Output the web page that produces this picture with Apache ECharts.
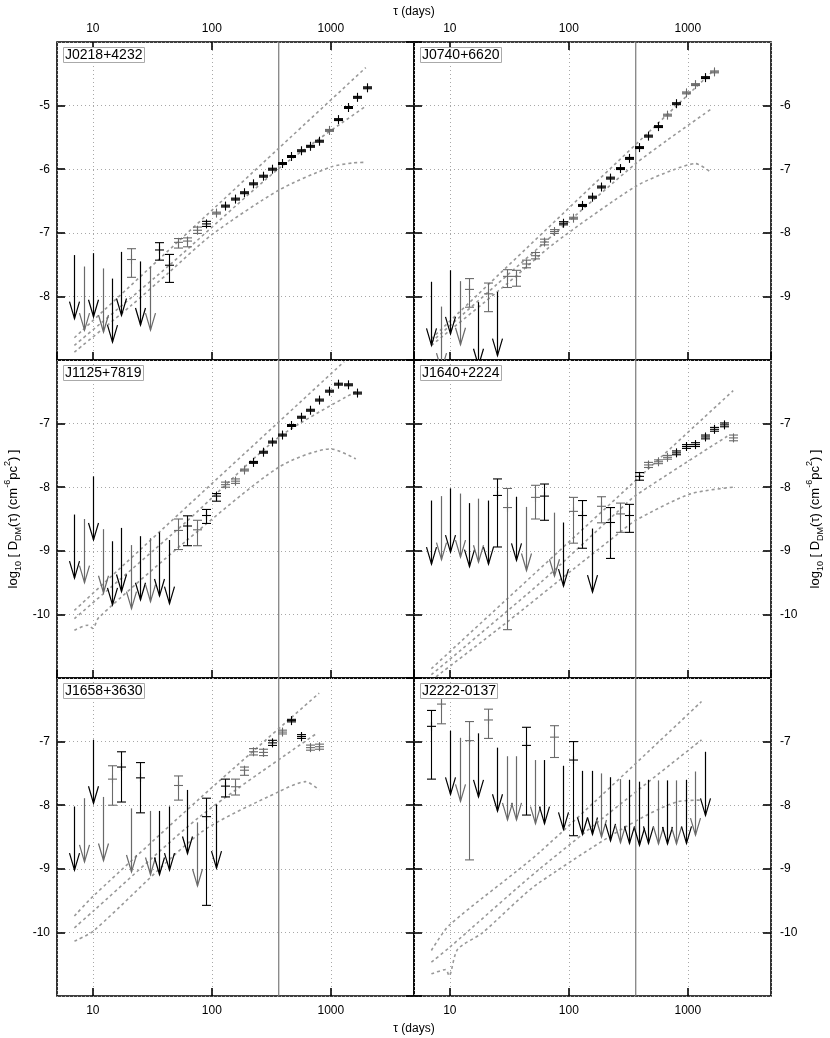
<!DOCTYPE html>
<html>
<head>
<meta charset="utf-8">
<script src="https://cdn.jsdelivr.net/npm/echarts@6/dist/echarts.min.js"></script>
<style>html,body{margin:0;padding:0;background:#fff}#c{width:830px;height:1038px}</style>
</head>
<body>
<div id="c"></div>
<script>
// ---------------- DATA ----------------
const names = ['J0218+4232','J0740+6620','J1125+7819','J1640+2224','J1658+3630','J2222-0137'];
const xTicks = [10, 100, 1000];
const yRanges = [[-9,-4],[-10,-5],[-11,-6],[-11,-6],[-11,-6],[-11,-6]];
const yearLine = 365;

// upper limits: [tau, value, grey?]
const J0218_lim = [[7.0,-7.35,0],[8.4,-7.53,1],[10.1,-7.32,0],[12.1,-7.56,1],[14.5,-7.72,0],[17.4,-7.30,0],[25.1,-7.45,0],[30.1,-7.53,1]];
// measurements: [tau, value, low, high, grey?]
const J0218_err = [[20.9,-7.42,-7.70,-7.25,1],[36.1,-7.27,-7.43,-7.155,0],[43.3,-7.51,-7.78,-7.34,0],[52.0,-7.15,-7.24,-7.09,1],[62.4,-7.13,-7.22,-7.08,1],[74.9,-6.96,-7.01,-6.91,1],[89.9,-6.86,-6.90,-6.82,0],[107.9,-6.69,-6.705,-6.675,1],[129.5,-6.58,-6.595,-6.565,0],[155.4,-6.47,-6.485,-6.455,0],[186.4,-6.37,-6.385,-6.355,0],[223.7,-6.23,-6.245,-6.215,0],[268.5,-6.11,-6.125,-6.095,0],[322.2,-6.00,-6.015,-5.985,0],[386.6,-5.91,-5.925,-5.895,0],[463.9,-5.80,-5.815,-5.785,0],[556.7,-5.71,-5.725,-5.695,0],[668.0,-5.64,-5.655,-5.625,0],[801.6,-5.56,-5.575,-5.545,0],[962.0,-5.39,-5.405,-5.375,1],[1154,-5.22,-5.235,-5.205,0],[1385,-5.03,-5.045,-5.015,0],[1662,-4.87,-4.885,-4.855,0],[1995,-4.72,-4.735,-4.705,0]];
const J0218_up = [[7,-8.65],[365,-5.671],[1968,-4.402]];
const J0218_mid = [[7,-8.77],[43.8,-7.512],[365,-5.991],[1968,-5.01]];
const J0218_low = [[7,-8.875],[20.8,-8.15],[43.8,-7.62],[100,-7.03],[365,-6.33],[1000,-5.965],[1521,-5.902],[1968,-5.891]];

const J0740_lim = [[7.0,-8.77,0],[8.4,-9.16,1],[10.1,-8.59,0],[12.1,-8.76,1],[17.4,-9.09,0],[25.1,-8.93,0]];
const J0740_err = [[14.5,-8.89,-9.17,-8.72,1],[20.9,-8.96,-9.24,-8.79,1],[30.1,-8.685,-8.86,-8.58,1],[36.1,-8.685,-8.84,-8.59,1],[43.3,-8.49,-8.55,-8.43,1],[52.0,-8.36,-8.41,-8.31,1],[62.4,-8.145,-8.19,-8.10,1],[74.9,-7.98,-8.01,-7.95,1],[89.9,-7.85,-7.875,-7.825,0],[107.9,-7.77,-7.785,-7.755,1],[129.5,-7.57,-7.585,-7.555,0],[155.4,-7.44,-7.455,-7.425,0],[186.4,-7.28,-7.295,-7.265,0],[223.7,-7.14,-7.155,-7.125,0],[268.5,-6.99,-7.005,-6.975,0],[322.2,-6.83,-6.845,-6.815,0],[386.6,-6.66,-6.675,-6.645,0],[463.9,-6.48,-6.495,-6.465,0],[556.7,-6.33,-6.345,-6.315,0],[668.0,-6.15,-6.165,-6.135,1],[801.6,-5.97,-5.985,-5.955,0],[962.0,-5.80,-5.815,-5.785,1],[1154,-5.67,-5.685,-5.655,1],[1385,-5.56,-5.575,-5.545,0],[1662,-5.47,-5.485,-5.455,1]];
const J0740_up = [[7,-9.665],[1675,-5.434]];
const J0740_mid = [[7,-9.718],[30.3,-8.669],[74.8,-8.024],[365,-6.912],[670,-6.545],[1549,-6.063]];
const J0740_low = [[7,-9.77],[30.3,-8.80],[74.8,-8.171],[365,-7.269],[762,-7.007],[1159,-6.912],[1549,-7.044]];

const J1125_lim = [[7.0,-8.43,0],[8.4,-8.50,1],[10.1,-7.83,0],[12.1,-8.66,1],[14.5,-8.85,0],[17.4,-8.64,0],[20.9,-8.91,1],[25.1,-8.77,0],[30.1,-8.80,1],[36.1,-8.71,0],[43.3,-8.83,0]];
const J1125_err = [[52.0,-8.68,-8.98,-8.50,1],[62.4,-8.61,-8.92,-8.45,0],[74.9,-8.67,-8.92,-8.52,1],[89.9,-8.445,-8.57,-8.35,0],[107.9,-8.14,-8.22,-8.10,0],[129.5,-7.96,-8.00,-7.92,1],[155.4,-7.905,-7.94,-7.87,1],[186.4,-7.73,-7.745,-7.715,1],[223.7,-7.61,-7.625,-7.595,0],[268.5,-7.45,-7.465,-7.435,0],[322.2,-7.29,-7.305,-7.275,0],[386.6,-7.18,-7.195,-7.165,0],[463.9,-7.03,-7.045,-7.015,0],[556.7,-6.90,-6.915,-6.885,0],[668.0,-6.79,-6.805,-6.775,0],[801.6,-6.63,-6.645,-6.615,0],[962.0,-6.49,-6.505,-6.475,0],[1154,-6.38,-6.395,-6.365,0],[1385,-6.39,-6.405,-6.375,0],[1662,-6.52,-6.535,-6.505,0]];
const J1125_up = [[7,-9.937],[1294,-6.026]];
const J1125_mid = [[7,-10.068],[60.4,-8.55],[365,-7.215],[1622,-6.497]];
const J1125_low = [[7,-10.25],[9,-10.17],[10,-10.22],[11.2,-10.05],[60.4,-8.85],[365,-7.686],[1000,-7.398],[1622,-7.555]];

const J1640_lim = [[7.0,-8.21,0],[8.4,-8.14,1],[10.1,-8.02,0],[12.1,-8.10,1],[14.5,-8.25,0],[17.4,-8.18,1],[20.9,-8.21,0],[36.1,-8.15,0],[43.3,-8.31,1],[74.9,-8.40,1],[89.9,-8.555,0],[155.4,-8.65,0]];
const J1640_err = [[25.1,-8.13,-8.94,-7.87,0],[30.1,-8.32,-10.24,-8.02,1],[52.0,-8.16,-8.50,-7.97,1],[62.4,-8.14,-8.52,-7.95,0],[107.9,-8.38,-8.88,-8.16,1],[129.5,-8.445,-8.96,-8.21,0],[186.4,-8.30,-8.56,-8.15,1],[223.7,-8.555,-9.12,-8.32,0],[268.5,-8.42,-8.71,-8.25,1],[322.2,-8.445,-8.71,-8.27,0],[386.6,-7.83,-7.89,-7.77,0],[463.9,-7.65,-7.69,-7.61,1],[556.7,-7.60,-7.63,-7.57,1],[668.0,-7.53,-7.56,-7.50,1],[801.6,-7.46,-7.49,-7.43,0],[962.0,-7.36,-7.39,-7.33,0],[1154,-7.33,-7.36,-7.30,0],[1385,-7.21,-7.24,-7.18,0],[1662,-7.09,-7.12,-7.06,0],[1995,-7.02,-7.05,-6.99,0],[2393,-7.225,-7.27,-7.18,1]];
const J1640_up = [[7,-10.853],[2404,-6.482]];
const J1640_mid = [[7,-10.948],[57.8,-9.5],[265,-8.36],[365,-8.13],[2143,-7.199]];
const J1640_low = [[7,-11.037],[30.3,-10.12],[110,-9.283],[265,-8.72],[365,-8.52],[1052,-8.105],[2404,-8.0]];

const J1658_lim = [[7.0,-8.02,0],[8.4,-7.89,1],[10.1,-6.97,0],[12.1,-7.87,1],[20.9,-8.05,1],[30.1,-8.09,1],[36.1,-8.09,0],[43.3,-8.02,0],[62.4,-7.76,0],[74.9,-8.27,1],[107.9,-7.99,0]];
const J1658_err = [[14.5,-7.59,-8.00,-7.38,1],[17.4,-7.40,-7.95,-7.16,0],[25.1,-7.57,-8.12,-7.33,0],[52.0,-7.69,-7.92,-7.54,1],[89.9,-8.18,-9.575,-7.89,0],[129.5,-7.70,-7.87,-7.59,0],[155.4,-7.71,-7.84,-7.59,1],[186.4,-7.45,-7.53,-7.40,1],[223.7,-7.16,-7.21,-7.11,1],[268.5,-7.17,-7.22,-7.12,1],[322.2,-7.02,-7.06,-6.98,0],[386.6,-6.85,-6.88,-6.82,1],[463.9,-6.67,-6.69,-6.65,0],[556.7,-6.92,-6.95,-6.89,0],[668.0,-7.095,-7.135,-7.055,1],[801.6,-7.08,-7.12,-7.04,1]];
const J1658_up = [[7,-9.743],[10.1,-9.428],[80.9,-7.878],[798,-6.238]];
const J1658_mid = [[7,-9.928],[10.1,-9.664],[80.9,-8.167],[762,-6.87]];
const J1658_low = [[7,-10.137],[10.1,-9.98],[80.9,-8.43],[365,-7.788],[617,-7.63],[798,-7.76]];

const J2222_lim = [[10.1,-6.83,0],[12.1,-6.94,1],[17.4,-6.87,0],[25.1,-7.095,0],[30.1,-7.23,1],[36.1,-7.23,1],[52.0,-7.29,1],[62.4,-7.29,0],[89.9,-7.38,0],[129.5,-7.46,0],[155.4,-7.46,0],[186.4,-7.50,1],[223.7,-7.56,0],[268.5,-7.59,1],[322.2,-7.60,0],[386.6,-7.63,0],[463.9,-7.60,0],[556.7,-7.61,1],[668.0,-7.61,0],[801.6,-7.61,1],[962.0,-7.60,0],[1154,-7.47,1],[1385,-7.16,0]];
const J2222_err = [[7.0,-6.76,-7.59,-6.51,0],[8.4,-6.41,-6.72,-6.15,1],[14.5,-6.985,-8.86,-6.685,1],[20.9,-6.66,-6.95,-6.49,1],[43.3,-7.06,-8.155,-6.775,0],[74.9,-6.93,-7.25,-6.75,1],[107.9,-7.29,-8.48,-7.00,0]];
const J2222_up = [[7,-10.284],[9.86,-9.89],[56.4,-8.745],[1303,-6.37]];
const J2222_mid = [[7,-10.468],[9.86,-10.242],[56.4,-9.007],[1303,-6.974]];
const J2222_low = [[7,-10.652],[9.25,-10.584],[9.86,-10.684],[11.6,-10.268],[18.8,-10.006],[56.4,-9.218],[813,-7.946],[1303,-7.92]];

const limSets = [J0218_lim, J0740_lim, J1125_lim, J1640_lim, J1658_lim, J2222_lim];
const errSets = [J0218_err, J0740_err, J1125_err, J1640_err, J1658_err, J2222_err];
const upSets  = [J0218_up, J0740_up, J1125_up, J1640_up, J1658_up, J2222_up];
const midSets = [J0218_mid, J0740_mid, J1125_mid, J1640_mid, J1658_mid, J2222_mid];
const lowSets = [J0218_low, J0740_low, J1125_low, J1640_low, J1658_low, J2222_low];

// ---------------- LAYOUT / STYLE ----------------
const FONT = '"Liberation Sans", Arial, Helvetica, sans-serif';
const GL = [57, 414], GW = 357, GT = [42, 360, 678], GH = 318;
const BLACK = '#000', GREY = '#6a6a6a';
const ARROW_LEN = 1;

function renderErr(params, api) {
  const x = api.value(0), c = api.value(1), lo = api.value(2), hi = api.value(3), g = api.value(4);
  const pc = api.coord([x, c]), pl = api.coord([x, lo]), ph = api.coord([x, hi]);
  const st = {stroke: g ? GREY : BLACK, lineWidth: 1.1, fill: null};
  const w = 4.5, s = 4.5, X = Math.round(pc[0]) + 0.5;
  return {type: 'group', children: [
    {type: 'line', shape: {x1: X, y1: pl[1], x2: X, y2: ph[1]}, style: st},
    {type: 'line', shape: {x1: X - w, y1: pl[1], x2: X + w, y2: pl[1]}, style: st},
    {type: 'line', shape: {x1: X - w, y1: ph[1], x2: X + w, y2: ph[1]}, style: st},
    {type: 'line', shape: {x1: X - s, y1: pc[1], x2: X + s, y2: pc[1]}, style: st},
    {type: 'line', shape: {x1: X, y1: pc[1] - s, x2: X, y2: pc[1] + s}, style: st}
  ]};
}
function renderLim(params, api) {
  const x = api.value(0), top = api.value(1), g = api.value(2);
  const p1 = api.coord([x, top]), p2 = api.coord([x, top - ARROW_LEN]);
  const st = {stroke: g ? GREY : BLACK, lineWidth: 1.2, fill: null};
  const X = Math.round(p1[0]) + 0.5;
  return {type: 'group', children: [
    {type: 'line', shape: {x1: X, y1: p1[1], x2: X, y2: p2[1]}, style: st},
    {type: 'polyline', shape: {points: [[X - 5, p2[1] - 17], [X, p2[1]], [X + 5, p2[1] - 17]]}, style: st}
  ]};
}

const grid = [], xAxis = [], yAxis = [], series = [], title = [];
for (let i = 0; i < 6; i++) {
  const row = Math.floor(i / 2), col = i % 2;
  grid.push({left: GL[col], top: GT[row], width: GW, height: GH, show: true, borderColor: '#000', borderWidth: 1.6, backgroundColor: 'transparent'});
  const lab = (show, margin) => ({show, margin, fontSize: 12, color: '#000', fontFamily: FONT, showMinLabel: false, showMaxLabel: false});
  const tick = (show) => ({show, inside: true, length: 8, lineStyle: {color: '#000', width: 1.6}});
  const split = (show) => ({show, lineStyle: {color: '#a8a8a8', type: [1, 3], width: 1}});
  xAxis.push({type: 'log', logBase: 10, gridIndex: i, position: 'bottom', min: 5, max: 5000,
    axisLine: {show: false}, axisTick: tick(true), splitLine: split(true),
    axisLabel: Object.assign(lab(row === 2, 9), {formatter: v => xTicks.includes(Math.round(v)) ? String(Math.round(v)) : ''})});
  xAxis.push({type: 'log', logBase: 10, gridIndex: i, position: 'top', min: 5, max: 5000,
    axisLine: {show: false}, axisTick: tick(row === 0), splitLine: split(false),
    axisLabel: Object.assign(lab(row === 0, 7), {formatter: v => xTicks.includes(Math.round(v)) ? String(Math.round(v)) : ''})});
  const yr = yRanges[i];
  yAxis.push({type: 'value', gridIndex: i, position: 'left', min: yr[0], max: yr[1], interval: 1,
    axisLine: {show: false}, axisTick: tick(true), splitLine: split(true), axisLabel: lab(col === 0, 7)});
  yAxis.push({type: 'value', gridIndex: i, position: 'right', min: yr[0], max: yr[1], interval: 1,
    axisLine: {show: false}, axisTick: tick(true), splitLine: split(false), axisLabel: lab(col === 1, 9)});

  const ax = {xAxisIndex: 2 * i, yAxisIndex: 2 * i};
  series.push(Object.assign({type: 'line', data: [[yearLine, yr[0] - 1], [yearLine, yr[1] + 1]], symbol: 'none', silent: true,
    lineStyle: {color: '#7a7a7a', width: 1.2}, z: 1, animation: false}, ax));
  [upSets[i], midSets[i], lowSets[i]].forEach(d => {
    series.push(Object.assign({type: 'line', data: d, symbol: 'none', smooth: 0.25, silent: true,
      lineStyle: {color: '#999', width: 1.6, type: [3, 3]}, z: 2, animation: false}, ax));
  });
  series.push(Object.assign({type: 'custom', data: errSets[i], renderItem: renderErr, encode: {x: 0, y: 1}, clip: true, z: 3, animation: false, silent: true}, ax));
  series.push(Object.assign({type: 'custom', data: limSets[i], renderItem: renderLim, encode: {x: 0, y: 1}, clip: true, z: 3, animation: false, silent: true}, ax));

  title.push({text: names[i], left: GL[col] + 6, top: GT[row] + 5, padding: [1, 2, 0, 2], borderColor: '#aaa', borderWidth: 1,
    backgroundColor: '#fff', z: 10, textStyle: {fontSize: 14, fontWeight: 'normal', color: '#000', fontFamily: FONT, lineHeight: 15}});
}

const yTitle = '{n|log}{s|10}{n| [ D}{s|DM}{n|(τ) (cm}{p|-6}{n|pc}{p|2}{n|) ]}';
const rich = {
  n: {fontSize: 13, fontFamily: FONT, fill: '#000', lineHeight: 20, verticalAlign: 'middle'},
  s: {fontSize: 9, fontFamily: FONT, fill: '#000', lineHeight: 9, verticalAlign: 'bottom'},
  p: {fontSize: 9, fontFamily: FONT, fill: '#000', lineHeight: 9, verticalAlign: 'top'}
};
const graphic = [
  {type: 'text', x: 414, y: 12, style: {text: 'τ (days)', fontSize: 12, fontFamily: FONT, fill: '#000', align: 'center', verticalAlign: 'middle'}},
  {type: 'text', x: 414, y: 1029, style: {text: 'τ (days)', fontSize: 12, fontFamily: FONT, fill: '#000', align: 'center', verticalAlign: 'middle'}},
  {type: 'text', x: 13, y: 519, rotation: Math.PI / 2, style: {text: yTitle, rich, align: 'center', verticalAlign: 'middle'}},
  {type: 'text', x: 815, y: 519, rotation: Math.PI / 2, style: {text: yTitle, rich, align: 'center', verticalAlign: 'middle'}}
];

const chart = echarts.init(document.getElementById('c'), null, {renderer: 'canvas', width: 830, height: 1038});
chart.setOption({animation: false, backgroundColor: '#fff', grid, xAxis, yAxis, series, title, graphic});
</script>
</body>
</html>
